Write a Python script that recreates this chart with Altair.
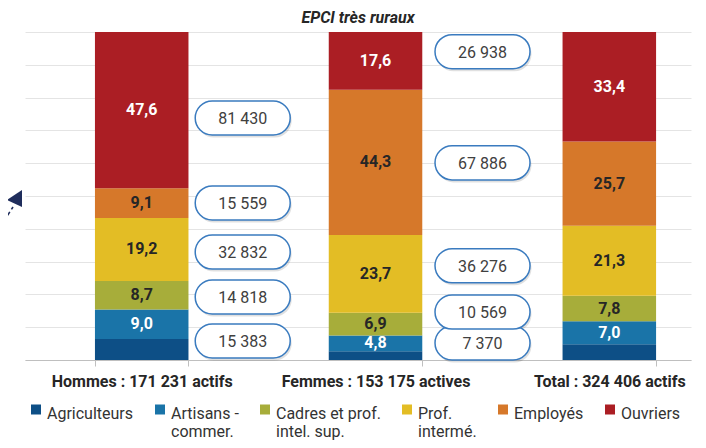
import altair as alt
import pandas as pd

categories = ["Hommes : 171 231 actifs", "Femmes : 153 175 actives", "Total : 324 406 actifs"]
groups = ["Agriculteurs", "Artisans -|commer.", "Cadres et prof.|intel. sup.",
          "Prof.|intermé.", "Employés", "Ouvriers"]
colors = ["#0d4f86", "#1a74a8", "#a7ad3a", "#e3bd25", "#d6782a", "#ab1e24"]

share_hommes = [6.4, 9.0, 8.7, 19.2, 9.1, 47.6]
share_femmes = [2.7, 4.8, 6.9, 23.7, 44.3, 17.6]
share_total = [4.8, 7.0, 7.8, 21.3, 25.7, 33.4]

# workforce counts (Artisans .. Ouvriers)
count_hommes = [15383, 14818, 32832, 15559, 81430]
count_femmes = [7370, 10569, 36276, 67886, 26938]
# annotation placement of the count bubbles (in % of the axis)
bubble_y_hommes = [5.8, 19.2, 32.9, 47.9, 73.8]
bubble_y_femmes = [5.2, 14.6, 28.7, 60.1, 94.0]

white_groups = ["Artisans -|commer.", "Ouvriers"]

rows = []
for cat, shares in zip(categories, [share_hommes, share_femmes, share_total]):
    for i, (g, v) in enumerate(zip(groups, shares)):
        rows.append({"cat": cat, "grp": g, "idx": i, "val": v,
                     "lab": f"{v:.1f}".replace(".", ","),
                     "tcol": "#ffffff" if g in white_groups else "#262626"})
bars = pd.DataFrame(rows)

brows = []
for cat, counts, ys in [(categories[0], count_hommes, bubble_y_hommes),
                        (categories[1], count_femmes, bubble_y_femmes)]:
    for g, n, yy in zip(groups[1:], counts, ys):
        brows.append({"cat": cat, "grp": g, "n": n, "pos": yy,
                      "txt": f"{n:,}".replace(",", " ")})
bub = pd.DataFrame(brows)

FONT = "Roboto"

xscale = alt.Scale(domain=categories, paddingInner=0.6, paddingOuter=0.2243, align=0.667)
x_axis = alt.Axis(title=None, labelAngle=0, tickBand="extent", domainColor="#bfbfbf",
                  tickColor="#bfbfbf", tickSize=6, labelFont=FONT, labelFontSize=16,
                  labelFontWeight="bold", labelColor="#262626", labelPadding=7,
                  labelLimit=400, grid=False)
yscale = alt.Scale(domain=[0, 100], nice=False)
y_axis = alt.Axis(title=None, labels=False, ticks=False, domain=False, grid=True,
                  gridColor="#e4e4e4", gridWidth=1, tickCount=10)

X = alt.X("cat:N", sort=categories, scale=xscale, axis=x_axis)

# every legend label gets two lines so all entries share one height
legend_expr = "indexof(datum.label, '|') >= 0 ? split(datum.label, '|') : [datum.label, '\u00a0']"
# square legend swatch, nudged down to sit on the first text line
SWATCH = "M -1 -0.3 L 1 -0.3 L 1 1.7 L -1 1.7 Z"

bar_layer = alt.Chart(bars).mark_bar().encode(
    x=X,
    y=alt.Y("val:Q", stack="zero", scale=yscale, axis=y_axis),
    color=alt.Color("grp:N", sort=groups, scale=alt.Scale(domain=groups, range=colors),
                    legend=alt.Legend(title=None, orient="none", legendX=3, legendY=366,
                                      direction="horizontal", symbolType=SWATCH,
                                      symbolSize=100, symbolStrokeWidth=0,
                                      labelFont=FONT, labelFontSize=16,
                                      labelColor="#333333", labelExpr=legend_expr,
                                      labelBaseline="top", columnPadding=18, labelOffset=3,
                                      labelLimit=0)),
    order=alt.Order("idx:Q", sort="ascending"),
)

label_layer = alt.Chart(bars).transform_stack(
    stack="val", groupby=["cat"], sort=[alt.SortField("idx", order="ascending")], as_=["y0", "y1"]
).transform_filter("datum.idx > 0").transform_calculate(
    mid="(datum.y0 + datum.y1) / 2"
).mark_text(font=FONT, fontSize=16, fontWeight="bold", baseline="middle").encode(
    x=X,
    y=alt.Y("mid:Q", scale=yscale, axis=y_axis),
    text="lab:N",
    color=alt.Color("tcol:N", scale=None),
)

STADIUM = ("M -0.642 -0.358 L 0.642 -0.358 C 0.840 -0.358 1 -0.198 1 0 "
           "C 1 0.198 0.840 0.358 0.642 0.358 L -0.642 0.358 "
           "C -0.840 0.358 -1 0.198 -1 0 C -1 -0.198 -0.840 -0.358 -0.642 -0.358 Z")

bubble_layers = []
for cat, off in [(categories[0], 101), (categories[1], 107)]:
    src = alt.Chart(bub).transform_filter(alt.datum.cat == cat)
    enc = dict(x=X, y=alt.Y("pos:Q", scale=yscale, axis=y_axis))
    shadow = src.mark_point(shape=STADIUM, size=9025, filled=True, color="#000000",
                            opacity=0.12, xOffset=off + 1.5, yOffset=2.5).encode(**enc)
    box = src.mark_point(shape=STADIUM, size=9025, filled=False, fill="#ffffff",
                         fillOpacity=1, stroke="#3a7bbf", strokeWidth=1.5,
                         opacity=1, xOffset=off).encode(**enc)
    txt = src.mark_text(font=FONT, fontSize=16, color="#404040", dx=off, dy=1,
                        baseline="middle").encode(text="txt:N", **enc)
    bubble_layers += [shadow, box, txt]

# stray dashed arrow on the left edge (decoration)
one = pd.DataFrame({"a": [0]})
arrow_line = alt.Chart(one).mark_point(
    shape="M -0.65 1 L 0.65 -1", size=400, filled=False, stroke="#1f2d5c",
    strokeWidth=1.6, strokeDash=[4, 3], opacity=1
).encode(x=alt.value(-18.5), y=alt.value(185))
arrow_head = alt.Chart(one).mark_point(
    shape="M -1 0.1 L 0.5 -0.9 L 0.5 0.8 Z", size=400, filled=True, color="#1f2d5c", opacity=1
).encode(x=alt.value(-8), y=alt.value(167))

chart = alt.layer(bar_layer, label_layer, *bubble_layers, arrow_line, arrow_head).properties(
    width=666, height=328,
    padding={"left": 17, "top": 24, "right": 7, "bottom": 80},
    autosize=alt.AutoSizeParams(type="none"),
    title=alt.TitleParams("EPCI très ruraux", font=FONT, fontSize=16, fontWeight="bold",
                          fontStyle="italic", color="#262626", anchor="middle", offset=6),
).configure(background="#ffffff", view=alt.ViewConfig(stroke=None))

chart.save("out.html", embed_options={"renderer": "svg", "actions": False})
